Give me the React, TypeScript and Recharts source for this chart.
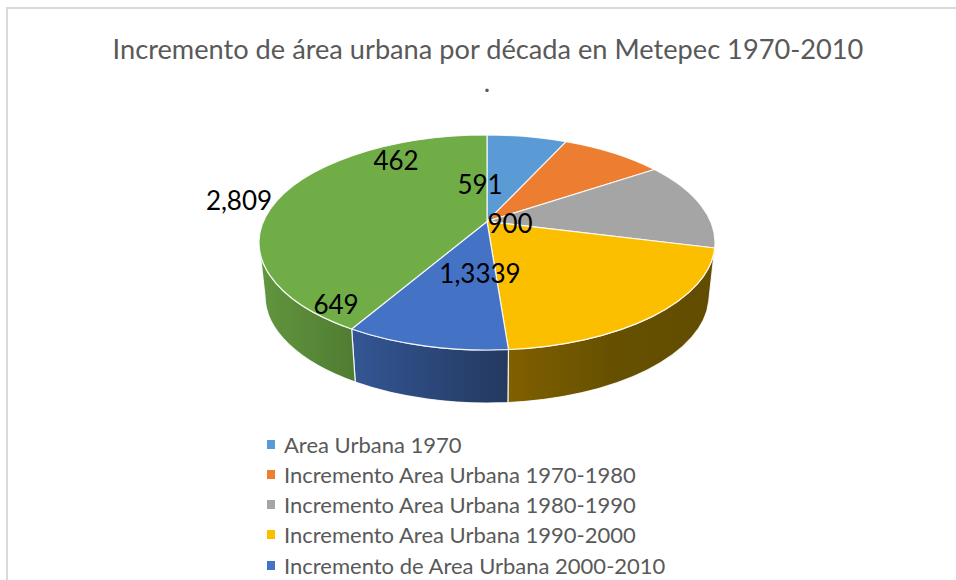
import React from "react";
import { PieChart, Pie, Legend } from "recharts";

const TITLE = "Incremento de área urbana por década en Metepec 1970-2010";
const SUBTITLE = ".";
const NAMES = [
  "Area Urbana 1970",
  "Incremento Area Urbana 1970-1980",
  "Incremento Area Urbana 1980-1990",
  "Incremento Area Urbana 1990-2000",
  "Incremento de Area Urbana 2000-2010",
  "",
];
const VALUES = [462, 591, 900, 1339, 649, 2809];
const LABEL_TEXTS = ["462", "591", "900", "1,3339", "649", "2,809"];
const COLORS = ["#5b9bd5", "#ed7d31", "#a5a5a5", "#fcbf00", "#4472c4", "#70ad47"];
const WALL_STOPS: string[][] = [
  ["#37658f", "#37658f"],
  ["#8f4a1d", "#8f4a1d"],
  ["#6a6a6a", "#6a6a6a"],
  ["#806000", "#665000", "#624c00"],
  ["#335695", "#24395f"],
  ["#62963f", "#507c31"],
];
const LABEL_SPOTS = [
  [396, 160],
  [480, 184],
  [510, 223],
  [480, 273],
  [336, 304],
  [239, 200],
];

const FONT = "Lato, Carlito, sans-serif";
const WIDTH = 956;
const HEIGHT = 580;
const CX = 487;
const CY = 242.5;
const RX = 228;
const RY = 107.5;
const BOTTOM_RX = 222;
const BOTTOM_RY = 107;
const DEPTH = 53.5;
const PERSPECTIVE = 0.82;

const data = VALUES.map((value, i) => ({ name: NAMES[i], value, fill: COLORS[i] }));

const rad = (d: number) => (d * Math.PI) / 180;
// A turn around the disc, seen in perspective: the far side looks compressed.
const warp = (t: number) =>
  (2 * Math.atan2(PERSPECTIVE * Math.sin(rad(t / 2)), Math.cos(rad(t / 2))) * 180) / Math.PI;

function Slice3D(props: any) {
  const { cx, cy, startAngle, endAngle, fill, index, outerRadius } = props;
  const sx = outerRadius / RX;
  const rx = RX * sx;
  const ry = RY * sx;
  const rx2 = BOTTOM_RX * sx;
  const ry2 = BOTTOM_RY * sx;
  const w1 = warp(90 - startAngle);
  const w2 = warp(90 - endAngle);
  const top = (w: number) => [cx + rx * Math.sin(rad(w)), cy - ry * Math.cos(rad(w))];
  const bot = (w: number) => [cx + rx2 * Math.sin(rad(w)), cy + DEPTH - ry2 * Math.cos(rad(w))];
  const apex = [cx, top(warp(90))[1]];
  const [ax, ay] = top(w1);
  const [bx, by] = top(w2);
  const large = w2 - w1 > 180 ? 1 : 0;
  const topPath = `M${apex[0]},${apex[1]}L${ax},${ay}A${rx},${ry} 0 ${large} 1 ${bx},${by}Z`;
  const a = Math.max(w1, 90);
  const b = Math.min(w2, 270);
  let wall: React.ReactNode = null;
  if (b > a) {
    const [p1x, p1y] = top(a);
    const [p2x, p2y] = top(b);
    const [q2x, q2y] = bot(b);
    const [q1x, q1y] = bot(a);
    const d = `M${p1x},${p1y}A${rx},${ry} 0 0 1 ${p2x},${p2y}L${q2x},${q2y}A${rx2},${ry2} 0 0 0 ${q1x},${q1y}Z`;
    const id = `wall-${index}`;
    const stops = WALL_STOPS[index];
    wall = (
      <>
        <defs>
          <linearGradient id={id} x1="0" x2="1" y1="0" y2="0">
            {stops.map((c, i) => (
              <stop key={i} offset={stops.length === 1 ? 0 : i / (stops.length - 1)} stopColor={c} />
            ))}
          </linearGradient>
        </defs>
        <path d={d} fill={`url(#${id})`} stroke="#ffffff" strokeWidth={1.2} strokeOpacity={0.85} />
      </>
    );
  }
  return (
    <g>
      {wall}
      <path d={topPath} fill={fill} stroke="#ffffff" strokeWidth={1.2} strokeOpacity={0.85} strokeLinejoin="round" />
    </g>
  );
}

function SliceLabel(props: any) {
  const { index } = props;
  const [x, y] = LABEL_SPOTS[index];
  return (
    <text x={x} y={y} textAnchor="middle" dominantBaseline="central" fontFamily={FONT} fontSize={26} fill="#000000">
      {LABEL_TEXTS[index]}
    </text>
  );
}

function LegendList(props: any) {
  const items = (props.payload || []).filter((p: any) => p.value);
  return (
    <div style={{ fontFamily: FONT, fontSize: 22, color: "#595959" }}>
      {items.map((p: any) => (
        <div key={p.value} style={{ display: "flex", alignItems: "center", height: 30.25, whiteSpace: "nowrap" }}>
          <span style={{ width: 8, height: 9, background: p.color, marginRight: 9, flex: "none" }} />
          {p.value}
        </div>
      ))}
    </div>
  );
}

export default function App() {
  return (
    <div style={{ position: "absolute", left: 0, top: 0, width: WIDTH, height: HEIGHT, overflow: "hidden", background: "#ffffff" }}>
      <div style={{ position: "absolute", left: 6, top: 7, right: 0, bottom: 0, borderLeft: "2px solid #d9d9d9", borderTop: "2px solid #d9d9d9" }} />
      <div style={{ position: "absolute", left: 0, top: 0 }}>
        <PieChart width={WIDTH} height={HEIGHT} margin={{ top: 0, right: 0, bottom: 0, left: 0 }}>
          <text x={488} y={59} textAnchor="middle" fontFamily={FONT} fontSize={27.2} fill="#595959">
            {TITLE}
          </text>
          <text x={487} y={92} textAnchor="middle" fontFamily={FONT} fontSize={27.2} fill="#595959">
            {SUBTITLE}
          </text>
          <Pie
            data={data}
            dataKey="value"
            nameKey="name"
            cx={CX}
            cy={CY}
            innerRadius={0}
            outerRadius={RX}
            startAngle={90}
            endAngle={-270}
            stroke="none"
            shape={Slice3D}
            label={SliceLabel}
            labelLine={false}
            isAnimationActive={false}
          />
          <Legend
            content={LegendList}
            layout="vertical"
            verticalAlign="middle"
            align="center"
            wrapperStyle={{ left: 267, top: 429, width: 500 }}
          />
        </PieChart>
      </div>
    </div>
  );
}
